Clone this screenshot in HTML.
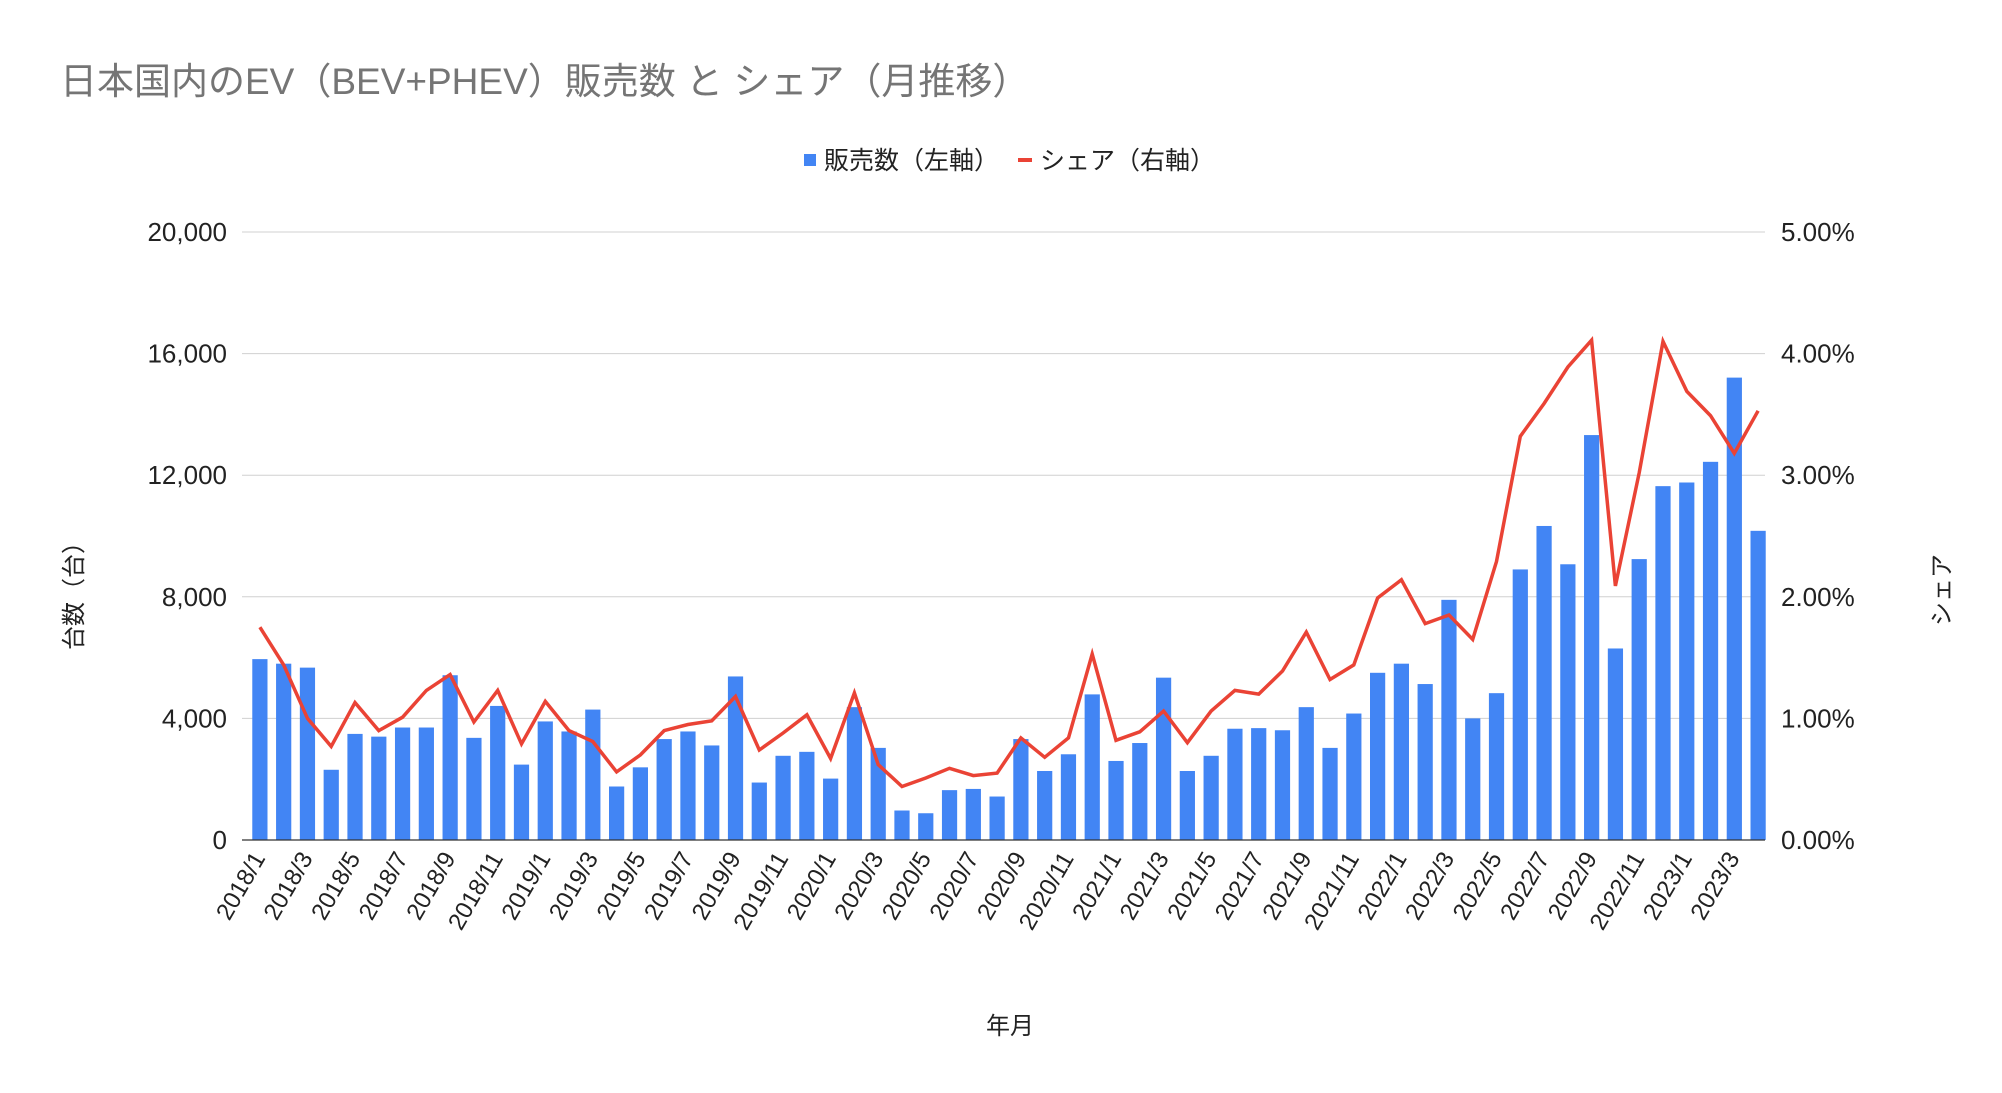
<!DOCTYPE html>
<html><head><meta charset="utf-8">
<style>
html,body{margin:0;padding:0;background:#fff;}
svg{display:block;font-family:"Liberation Sans","Noto Sans CJK JP",sans-serif;}
</style></head>
<body>
<svg id="chart" width="2002" height="1093" viewBox="0 0 2002 1093">
<text x="60" y="94" font-size="37" fill="#757575">日本国内のEV（BEV+PHEV）販売数 と シェア（月推移）</text>
<g>
<g>
<rect x="804" y="154" width="12" height="12" fill="#4285f4"/>
<text x="824" y="169" font-size="25" fill="#222">販売数（左軸）</text></g>
<g>
<rect x="1018" y="158" width="14" height="4" fill="#ea4335"/>
<text x="1040" y="169" font-size="25" fill="#222">シェア（右軸）</text></g>
</g>
<g id="grid"></g>
<g id="bars"></g>
<g id="line"></g>
<g id="axes"></g>
<text transform="translate(82,590) rotate(-90)" text-anchor="middle" font-size="24" fill="#222">台数（台）</text>
<text transform="translate(1950,590) rotate(-90)" text-anchor="middle" font-size="24" fill="#222">シェア</text>
<text x="1010" y="1034" text-anchor="middle" font-size="24" fill="#222">年月</text>
</svg>
<script>
const categories = [];
for (let y = 2018; y <= 2023; y++) for (let m = 1; m <= 12; m++) { if (y === 2023 && m > 4) break; categories.push(y + '/' + m); }
const salesValues = [5950,5800,5670,2310,3490,3400,3700,3700,5420,3360,4410,2480,3900,3570,4290,1760,2390,3320,3570,3110,5380,1890,2770,2900,2020,4370,3030,970,880,1640,1680,1430,3320,2270,2820,4790,2600,3190,5340,2270,2770,3660,3680,3610,4370,3030,4160,5500,5800,5130,7900,4000,4830,8900,10330,9070,13320,6300,9240,11640,11760,12440,15210,10170];
const shareValues = [1.75,1.44,1.00,0.77,1.13,0.90,1.01,1.23,1.36,0.97,1.23,0.79,1.14,0.90,0.81,0.56,0.70,0.90,0.95,0.98,1.18,0.74,0.88,1.03,0.67,1.21,0.62,0.44,0.51,0.59,0.53,0.55,0.84,0.68,0.84,1.53,0.82,0.89,1.06,0.80,1.06,1.23,1.20,1.39,1.71,1.32,1.44,1.99,2.14,1.78,1.85,1.65,2.29,3.32,3.59,3.89,4.11,2.09,3.02,4.10,3.69,3.49,3.18,3.53];
const leftTicks = [0,4000,8000,12000,16000,20000];
const rightTicks = [0,1,2,3,4,5];

const NS = 'http://www.w3.org/2000/svg';
const G0 = 242, G1 = 1765;
const X0 = 248, X1 = 1770, Y0 = 840, Y1 = 232;
const band = (X1 - X0) / categories.length;
const xC = i => X0 + band * (i + 0.5);
const yL = v => Y0 - (v / 20000) * (Y0 - Y1);
const yR = v => Y0 - (v / 5) * (Y0 - Y1);
function mk(tag, attrs, parent) { const e = document.createElementNS(NS, tag); for (const k in attrs) e.setAttribute(k, attrs[k]); parent.appendChild(e); return e; }

const grid = document.getElementById('grid');
leftTicks.forEach(t => {
  const y = yL(t);
  if (t !== 0) {
    const l = mk('line', {x1: G0, x2: G1, y1: y, y2: y, stroke: '#d0d0d0', 'stroke-width': 1}, grid);
    
    
  }
  const tx = mk('text', {x: 227, y: y + 9, 'text-anchor': 'end', 'font-size': 26, fill: '#222'}, grid);
  tx.textContent = t.toLocaleString('en-US');
  
  
});
rightTicks.forEach(t => {
  const tx = mk('text', {x: 1781, y: yR(t) + 9, 'font-size': 26, fill: '#222'}, grid);
  tx.textContent = t.toFixed(2) + '%';
  
  
});

const bars = document.getElementById('bars');
const bw = band * 0.64;
salesValues.forEach((v, i) => {
  const r = mk('rect', {x: xC(i) - bw / 2, y: yL(v), width: bw, height: Y0 - yL(v), fill: '#4285f4'}, bars);
  
  
});

const lineG = document.getElementById('line');
const pts = shareValues.map((v, i) => xC(i).toFixed(1) + ',' + yR(v).toFixed(1)).join(' ');
const pl = mk('polyline', {points: pts, fill: 'none', stroke: '#ea4335', 'stroke-width': 3.5, 'stroke-linejoin': 'miter'}, lineG);



const axes = document.getElementById('axes');
const base = mk('line', {x1: G0, x2: G1, y1: Y0, y2: Y0, stroke: '#333', 'stroke-width': 1.2}, axes);


categories.forEach((c, i) => {
  if (i % 2 !== 0) return;
  const x = xC(i) + 6, y = 858;
  const t = mk('text', {x: x, y: y, 'text-anchor': 'end', 'font-size': 24, fill: '#222', transform: 'rotate(-60 ' + x + ' ' + y + ')'}, axes);
  t.textContent = c;
  
  
});
</script>
</body></html>
